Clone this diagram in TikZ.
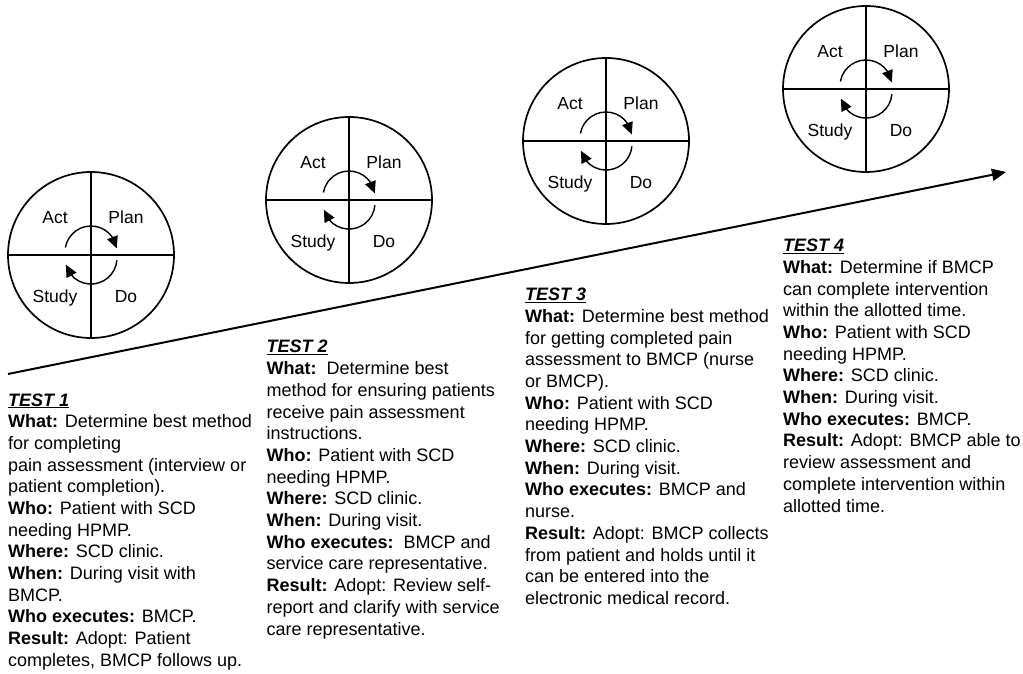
\documentclass[tikz,border=0pt]{standalone}
\usepackage{fontspec}
\setmainfont{Liberation Sans}
\usetikzlibrary{arrows.meta,bending}

% field label and underlined test heading
\newcommand\fld[1]{\textbf{#1}}
\newcommand\testhead[1]{\textbf{\textit{\underline{#1}}}}
% one column of test description, first baseline on the node's base
\newcommand\testcol[1]{\parbox[t]{300pt}{\raggedright\fontsize{18}{21.7}\selectfont #1}}

\tikzset{
  ring/.style={circle,draw,line width=1.7pt,minimum size=166pt,inner sep=0pt},
  divider/.style={line width=1.7pt},
  cycarrow/.style={line width=1.4pt,-{Triangle[length=12pt,width=11pt]}},
  phase/.style={font=\fontsize{17.5}{20}\selectfont,inner sep=0pt,anchor=base},
  timeline/.style={line width=2pt,-{Triangle[length=14pt,width=12pt]}},
  testblock/.style={inner sep=0pt,anchor=base west},
  pdsa/.pic={
    \node[ring] (-ring) at (0,0) {};
    \draw[divider] (-ring.north) -- (-ring.south);
    \draw[divider] (-ring.west) -- (-ring.east);
    \node[phase] (-act)   at (-36,31)  {Act};
    \node[phase] (-plan)  at (35,31)   {Plan};
    \node[phase] (-study) at (-36,-48) {Study};
    \node[phase] (-do)    at (35,-48)  {Do};
    \draw[cycarrow] (-25.6,7.5) arc[start angle=170,end angle=8,radius=26];
    \draw[cycarrow] (25.9,-5.3) arc[start angle=-5,end angle=-165,radius=26];
  }
}

\begin{document}
\begin{tikzpicture}[x=1pt,y=1pt]
\useasboundingbox (0,0) rectangle (1023,673);

% timeline
\coordinate (tl-start) at (8,299);
\coordinate (tl-end) at (1006,501);
\draw[timeline] (tl-start) -- (tl-end);

% PDSA cycles
\pic (c1) at (91,418) {pdsa};
\pic (c2) at (349,473) {pdsa};
\pic (c3) at (606,532) {pdsa};
\pic (c4) at (866,584) {pdsa};

% test descriptions
\node[testblock] (test1) at (8,267) {\testcol{%
\testhead{TEST 1}\\
\fld{What:} Determine best method\\
for completing\\
pain assessment (interview or\\
patient completion).\\
\fld{Who:} Patient with SCD\\
needing HPMP.\\
\fld{Where:} SCD clinic.\\
\fld{When:} During visit with\\
BMCP.\\
\fld{Who executes:} BMCP.\\
\fld{Result:} Adopt: Patient\\
completes, BMCP follows up.}};

\node[testblock] (test2) at (266.5,320) {\testcol{%
\testhead{TEST 2}\\
\fld{What:}\ \ Determine best\\
method for ensuring patients\\
receive pain assessment\\
instructions.\\
\fld{Who:} Patient with SCD\\
needing HPMP.\\
\fld{Where:} SCD clinic.\\
\fld{When:} During visit.\\
\fld{Who executes:}\ \ BMCP and\\
service care representative.\\
\fld{Result:} Adopt: Review self-\\
report and clarify with service\\
care representative.}};

\node[testblock] (test3) at (525,372.3) {\testcol{%
\testhead{TEST 3}\\
\fld{What:} Determine best method\\
for getting completed pain\\
assessment to BMCP (nurse\\
or BMCP).\\
\fld{Who:} Patient with SCD\\
needing HPMP.\\
\fld{Where:} SCD clinic.\\
\fld{When:} During visit.\\
\fld{Who executes:} BMCP and\\
nurse.\\
\fld{Result:} Adopt: BMCP collects\\
from patient and holds until it\\
can be entered into the\\
electronic medical record.}};

\node[testblock] (test4) at (783,421.3) {\testcol{%
\testhead{TEST 4}\\
\fld{What:} Determine if BMCP\\
can complete intervention\\
within the allotted time.\\
\fld{Who:} Patient with SCD\\
needing HPMP.\\
\fld{Where:} SCD clinic.\\
\fld{When:} During visit.\\
\fld{Who executes:} BMCP.\\
\fld{Result:} Adopt: BMCP able to\\
review assessment and\\
complete intervention within\\
allotted time.}};
\end{tikzpicture}
\end{document}
